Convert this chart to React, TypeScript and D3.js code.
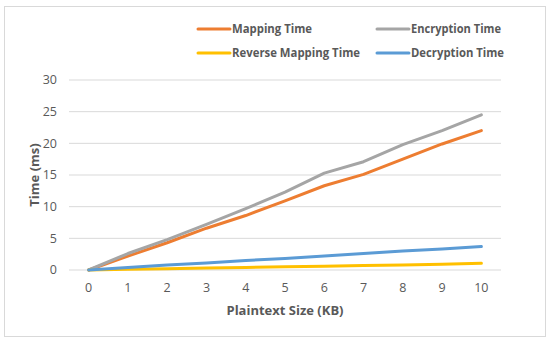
import React from "react";
import * as d3 from "d3";

const categories = [0, 1, 2, 3, 4, 5, 6, 7, 8, 9, 10];
const mappingTime = [0, 2.2, 4.3, 6.6, 8.6, 10.9, 13.3, 15.1, 17.5, 19.9, 22.0];
const encryptionTime = [0, 2.6, 4.8, 7.2, 9.7, 12.3, 15.3, 17.1, 19.8, 22.0, 24.5];
const reverseMappingTime = [0, 0.1, 0.2, 0.3, 0.4, 0.5, 0.6, 0.7, 0.8, 0.9, 1.05];
const decryptionTime = [0, 0.4, 0.8, 1.1, 1.5, 1.8, 2.2, 2.6, 3.0, 3.3, 3.7];
const yTicks = [0, 5, 10, 15, 20, 25, 30];

const series = [
  { name: "Mapping Time", values: mappingTime, color: "#ED7D31", w: 80 },
  { name: "Encryption Time", values: encryptionTime, color: "#A5A5A5", w: 90 },
  { name: "Reverse Mapping Time", values: reverseMappingTime, color: "#FFC000", w: 128 },
  { name: "Decryption Time", values: decryptionTime, color: "#5B9BD5", w: 93 },
];
const drawOrder = [0, 1, 2, 3];

const FONT = "'Open Sans', 'Liberation Sans', sans-serif";

export default function App() {
  const W = 550, H = 345;
  const plotL = 69, plotR = 501, plotT = 80, plotB = 270;
  const x = d3.scalePoint<number>().domain(categories).range([plotL, plotR]).padding(0.5);
  const y = d3.scaleLinear().domain([0, 30]).range([plotB, plotT]);
  const line = d3.line<number>().x((_, i) => x(categories[i])!).y((d) => y(d));

  const legendItems = [
    { s: series[0], lx: 198, ly: 29 },
    { s: series[1], lx: 377, ly: 29 },
    { s: series[2], lx: 198, ly: 53 },
    { s: series[3], lx: 377, ly: 53 },
  ];

  return (
    <svg width={W} height={H} style={{ position: "absolute", left: 0, top: 0 }} fontFamily={FONT}>
      <rect x={0} y={0} width={W} height={H} fill="#fff" />
      <rect x={4.5} y={6.5} width={541} height={330} fill="#fff" stroke="#D9D9D9" strokeWidth={1} />
      {yTicks.map((t) => (
        <g key={t}>
          <line x1={plotL} x2={plotR} y1={y(t)} y2={y(t)} stroke="#D9D9D9" strokeWidth={1} />
          <text x={57} y={y(t)} dy="0.35em" textAnchor="end" fontSize={12.5} fill="#595959">{t}</text>
        </g>
      ))}
      {categories.map((c) => (
        <text key={c} x={x(c)!} y={288} dy="0.35em" textAnchor="middle" fontSize={12.5} fill="#595959">{c}</text>
      ))}
      <text x={(plotL + plotR) / 2} y={310} dy="0.35em" textAnchor="middle" fontSize={13} fontWeight="bold" fill="#595959">Plaintext Size (KB)</text>
      <text transform={`translate(34,${(plotT + plotB) / 2}) rotate(-90)`} dy="0.35em" textAnchor="middle" fontSize={13} fontWeight="bold" fill="#595959">Time (ms)</text>
      {drawOrder.map((i) => (
        <path key={series[i].name} d={line(series[i].values)!} fill="none" stroke={series[i].color} strokeWidth={3} strokeLinejoin="round" strokeLinecap="round" />
      ))}
      {legendItems.map(({ s, lx, ly }) => (
        <g key={s.name}>
          <line x1={lx} x2={lx + 32} y1={ly} y2={ly} stroke={s.color} strokeWidth={3} strokeLinecap="round" />
          <text x={lx + 34} y={ly} dy="0.35em" fontSize={12.5} fontWeight="bold" fill="#595959" textLength={s.w} lengthAdjust="spacingAndGlyphs">{s.name}</text>
        </g>
      ))}
    </svg>
  );
}
